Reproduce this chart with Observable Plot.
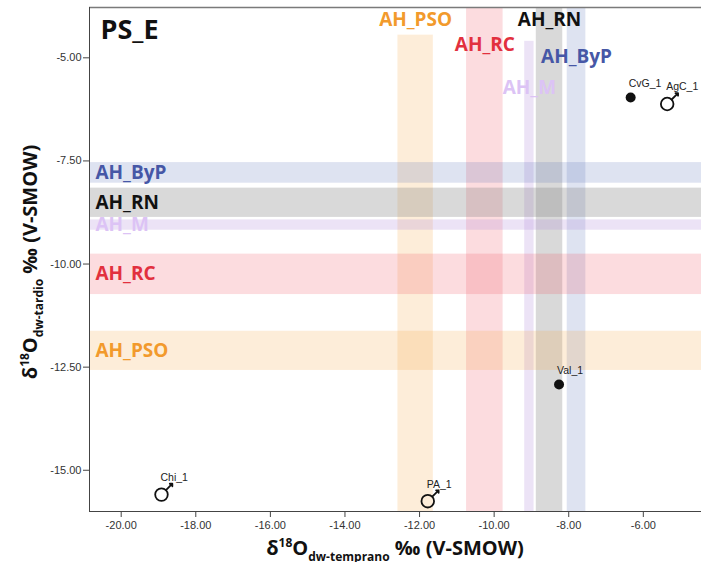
<!DOCTYPE html>
<html>
<head>
<meta charset="utf-8">
<script src="https://cdn.jsdelivr.net/npm/d3@7"></script>
<script src="https://cdn.jsdelivr.net/npm/@observablehq/plot@0.6"></script>
<style>
  body { margin: 0; background: #fff; }
  #chart svg { display: block; }
</style>
</head>
<body>
<div id="chart"></div>
<script>
// ---- Data ----
const panelTitle = "PS_E";
const bandNames   = ["AH_PSO", "AH_RC", "AH_M", "AH_RN", "AH_ByP"];
const bandLo      = [-12.58, -10.74, -9.18, -8.87, -8.04];
const bandHi      = [-11.63, -9.76, -8.93, -8.16, -7.54];
const bandFill    = ["#f5a742", "#f0505e", "#b48fdc", "#808080", "#4a64b0"];
const bandOpacity = [0.2, 0.2, 0.25, 0.3, 0.18];
const labelColor  = ["#f29a2c", "#e2303e", "#dcc3f5", "#111111", "#4657a6"];
const topLabelY   = [-4.07, -4.68, -5.72, -4.07, -4.97];
const vBandTop    = [-4.45, -3.78, -4.6, -3.78, -3.78];
const leftLabelX  = -20.69;

const pointNames = ["CvG_1", "AgC_1", "Val_1", "Chi_1", "PA_1"];
const pointX     = [-6.34, -5.36, -8.26, -18.92, -11.78];
const pointY     = [-5.96, -6.12, -12.92, -15.59, -15.75];
const pointKind  = ["solid", "male", "solid", "male", "male"];

const xTicks = [-20, -18, -16, -14, -12, -10, -8, -6];
const yTicks = [-5, -7.5, -10, -12.5, -15];
const xDomain = [-20.85, -4.44];
const yDomain = [-16.0, -3.78];

// ---- Build tables ----
const bands = bandNames.map((name, i) => ({
  name, lo: bandLo[i], hi: bandHi[i], fill: bandFill[i], op: bandOpacity[i],
  color: labelColor[i], ty: topLabelY[i], top: vBandTop[i], bottom: yDomain[0]
}));
const pts = pointNames.map((name, i) => ({ name, x: pointX[i], y: pointY[i], kind: pointKind[i] }));
const solid = pts.filter(d => d.kind === "solid");
const male = pts.filter(d => d.kind === "male");

const labelFont = "'Open Sans', 'DejaVu Sans', sans-serif";
const fmt = d => d.toFixed(2);

const plot = Plot.plot({
  width: 701,
  height: 562,
  marginLeft: 89,
  marginRight: 0,
  marginTop: 7,
  marginBottom: 51,
  x: { domain: xDomain, axis: null },
  y: { domain: yDomain, axis: null },
  color: { type: "identity" },
  style: { fontFamily: "'Liberation Sans', Arial, sans-serif", fontSize: "11px", color: "#333", background: "#fff" },
  marks: [
    // vertical bands
    ...bands.map(b => Plot.rect([b], { x1: "lo", x2: "hi", y1: "bottom", y2: "top", fill: b.fill, fillOpacity: b.op })),
    // horizontal bands
    ...bands.map(b => Plot.rect([b], { y1: "lo", y2: "hi", fill: b.fill, fillOpacity: b.op })),
    // frame
    Plot.ruleY([yDomain[1]], { stroke: "#7a7a7a", strokeWidth: 1.5 }),
    Plot.ruleY([yDomain[0]], { stroke: "#444" }),
    Plot.ruleX([xDomain[0]], { stroke: "#444" }),
    // axes
    Plot.axisX({ ticks: xTicks, tickFormat: fmt, tickSize: 6, tickPadding: 4, label: null, stroke: "#444", fill: "#333" }),
    Plot.axisY({ ticks: yTicks, tickFormat: fmt, tickSize: 6, tickPadding: 2, label: null, stroke: "#444", fill: "#333" }),
    // band labels (left)
    Plot.text(bands, {
      x: () => leftLabelX, y: d => (d.lo + d.hi) / 2, text: "name", fill: "color",
      textAnchor: "start", fontSize: 19, fontWeight: "bold", fontFamily: labelFont
    }),
    // band labels (top)
    Plot.text(bands, {
      x: d => (d.lo + d.hi) / 2, y: "ty", text: "name", fill: "color",
      textAnchor: "middle", fontSize: 19, fontWeight: "bold", fontFamily: labelFont
    }),
    // points
    Plot.dot(solid, { x: "x", y: "y", r: 5, fill: "#111", stroke: null }),
    Plot.dot(male, { x: "x", y: "y", r: 6.3, fill: "none", stroke: "#111", strokeWidth: 1.8 }),
    Plot.vector(male, { x: "x", y: "y", rotate: 45, length: 9, anchor: "start", dx: 4.5, dy: -4.5, stroke: "#111", strokeWidth: 1.8 }),
    // point labels
    Plot.text(solid, { x: "x", y: "y", text: "name", dx: -2, dy: -14, textAnchor: "start", fontSize: 10.5, fill: "#222" }),
    Plot.text(male, { x: "x", y: "y", text: "name", dx: -1, dy: -17, textAnchor: "start", fontSize: 10.5, fill: "#222" }),
    // panel title
    Plot.text([panelTitle], { frameAnchor: "top-left", dx: 11, dy: 12, text: d => d, textAnchor: "start", lineAnchor: "top", fontSize: 27, fontWeight: "bold", fontFamily: labelFont, fill: "#111" })
  ]
});

// axis titles with sub/superscripts
const svg = d3.select(plot);
function addTitle(g, sub) {
  const t = g.append("text")
    .attr("text-anchor", "middle")
    .attr("font-family", labelFont)
    .attr("font-weight", "bold")
    .attr("font-size", 20)
    .attr("fill", "#111");
  t.append("tspan").text("δ");
  t.append("tspan").attr("font-size", 12).attr("dy", -8).text("18");
  t.append("tspan").attr("dy", 8).text("O");
  t.append("tspan").attr("font-size", 12).attr("dy", 6).text(sub);
  t.append("tspan").attr("dy", -6).text(" ‰ (V-SMOW)");
}
addTitle(svg.append("g").attr("transform", "translate(395,555)"), "dw-temprano");
addTitle(svg.append("g").attr("transform", "translate(37,262) rotate(-90)"), "dw-tardio");

document.getElementById("chart").appendChild(plot);
</script>
</body>
</html>
